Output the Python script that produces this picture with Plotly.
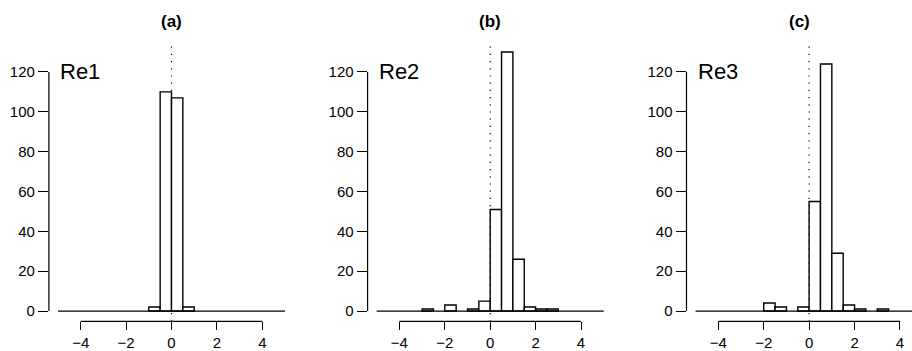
import plotly.graph_objects as go

# ---- data ----
bin_edges = [-5.0, -4.5, -4.0, -3.5, -3.0, -2.5, -2.0, -1.5, -1.0, -0.5, 0.0,
             0.5, 1.0, 1.5, 2.0, 2.5, 3.0, 3.5, 4.0, 4.5, 5.0]
counts_re1 = [0, 0, 0, 0, 0, 0, 0, 0, 2, 110, 107, 2, 0, 0, 0, 0, 0, 0, 0, 0]
counts_re2 = [0, 0, 0, 0, 1, 0, 3, 0, 1, 5, 51, 130, 26, 2, 1, 1, 0, 0, 0, 0]
counts_re3 = [0, 0, 0, 0, 0, 0, 4, 2, 0, 2, 55, 124, 29, 3, 1, 0, 1, 0, 0, 0]
panel_titles = ["(a)", "(b)", "(c)"]
panel_labels = ["Re1", "Re2", "Re3"]
x_ticks = [-4, -2, 0, 2, 4]
y_ticks = [0, 20, 40, 60, 80, 100, 120]

series = [counts_re1, counts_re2, counts_re3]

W, H = 912, 351
# panel pixel geometry (left, right) of plot regions
panel_px = [(48.9, 294.1), (367.6, 612.8), (686.5, 912.0)]
x_ranges = [[-5.4, 5.4], [-5.4, 5.4], [-5.4, 4.53]]
y_top_px, y_bot_px = 41.7, 321.4
y_dom = [(H - y_bot_px) / H, (H - y_top_px) / H]
y_range = [-5.2, 135.2]

FONT = "Liberation Sans, Arial, Helvetica, sans-serif"

centers = [(bin_edges[i] + bin_edges[i + 1]) / 2 for i in range(len(bin_edges) - 1)]
widths = [bin_edges[i + 1] - bin_edges[i] for i in range(len(bin_edges) - 1)]

fig = go.Figure()
layout = dict(
    width=W, height=H,
    margin=dict(l=0, r=0, t=0, b=0),
    paper_bgcolor="white", plot_bgcolor="white",
    showlegend=False,
    font=dict(family=FONT, color="black", size=15),
    shapes=[], annotations=[],
)

for k in range(3):
    xa = "x" if k == 0 else f"x{k+1}"
    ya = "y" if k == 0 else f"y{k+1}"
    xkey = "xaxis" if k == 0 else f"xaxis{k+1}"
    ykey = "yaxis" if k == 0 else f"yaxis{k+1}"
    counts = series[k]
    # baseline covering all bins (zero-count bins are flat)
    fig.add_trace(go.Scatter(x=[bin_edges[0], bin_edges[-1]], y=[0, 0], mode="lines",
                             line=dict(color="black", width=1.2), xaxis=xa, yaxis=ya,
                             hoverinfo="skip"))
    nz_x = [c for c, v in zip(centers, counts) if v > 0]
    nz_y = [v for v in counts if v > 0]
    nz_w = [w for w, v in zip(widths, counts) if v > 0]
    fig.add_trace(go.Bar(x=nz_x, y=nz_y, width=nz_w, xaxis=xa, yaxis=ya,
                         marker=dict(color="white", line=dict(color="black", width=1.4))))
    l, r = panel_px[k]
    layout[xkey] = dict(domain=[l / W, r / W], range=x_ranges[k], anchor=ya,
                        showgrid=False, zeroline=False, showline=False,
                        tickmode="array", tickvals=x_ticks,
                        ticktext=[("\u2212" + str(-t)) if t < 0 else str(t) for t in x_ticks],
                        ticks="outside", ticklen=8, tickwidth=1.2, tickcolor="black",
                        tickfont=dict(size=15, family=FONT, color="black"), fixedrange=True)
    layout[ykey] = dict(domain=y_dom, range=y_range, anchor=xa,
                        showgrid=False, zeroline=False, showline=False,
                        tickmode="array", tickvals=y_ticks,
                        ticks="outside", ticklen=10, tickwidth=1.2, tickcolor="black",
                        tickfont=dict(size=15, family=FONT, color="black"), fixedrange=True)
    xd = f"{xa} domain"
    yd = f"{ya} domain"
    # x axis line from -4 to 4 at bottom of plot region
    layout["shapes"].append(dict(type="line", xref=xa, yref=yd, x0=x_ticks[0], x1=x_ticks[-1],
                                 y0=0, y1=0, line=dict(color="black", width=1.2)))
    # y axis line from 0 to 120 at left of plot region
    layout["shapes"].append(dict(type="line", xref=xd, yref=ya, x0=0, x1=0,
                                 y0=y_ticks[0], y1=y_ticks[-1], line=dict(color="black", width=1.2)))
    # dotted vertical line at 0
    layout["shapes"].append(dict(type="line", xref=xa, yref=yd, x0=0, x1=0, y0=0, y1=1,
                                 layer="below", line=dict(color="black", width=1.2, dash="1.2px,6px")))
    # label
    layout["annotations"].append(dict(x=bin_edges[0], y=y_ticks[-1], xref=xa, yref=ya,
                                      text=panel_labels[k], showarrow=False,
                                      xanchor="left", yanchor="middle",
                                      font=dict(size=22, family=FONT, color="black")))
    # title
    layout["annotations"].append(dict(x=0.5 * (l + min(r, l + 245.2)) / W, y=(H - 22) / H,
                                      xref="paper", yref="paper",
                                      text=f"<b>{panel_titles[k]}</b>", showarrow=False,
                                      xanchor="center", yanchor="middle",
                                      font=dict(size=17, family=FONT, color="black")))

fig.update_layout(**layout)
fig.write_html("out.html")
